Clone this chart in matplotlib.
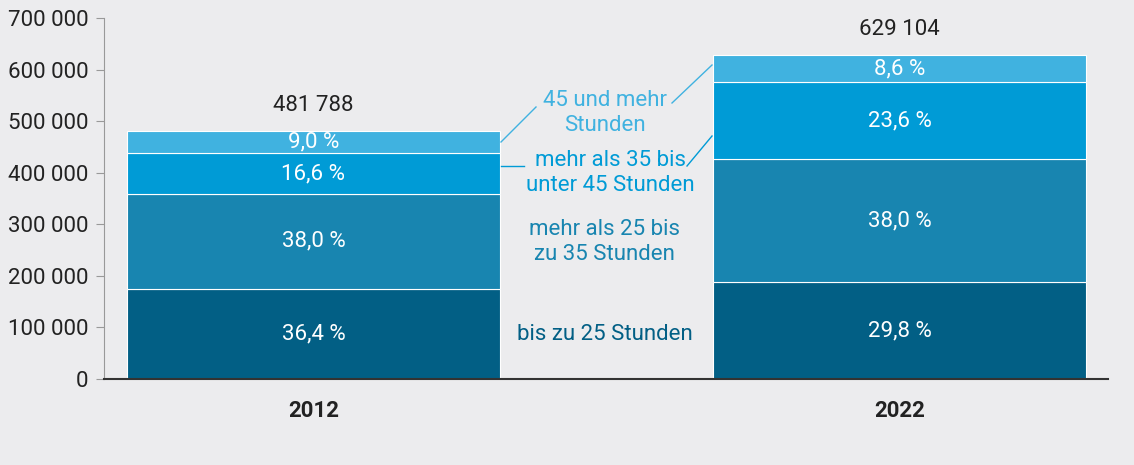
import matplotlib
matplotlib.use("Agg")
import matplotlib.pyplot as plt
from matplotlib.ticker import FuncFormatter

plt.rcParams['font.family'] = ['Roboto', 'DejaVu Sans']

# --- data ---
years = ['2012', '2022']
totals = [481788, 629104]
categories = ['bis zu 25 Stunden', 'mehr als 25 bis\nzu 35 Stunden',
              'mehr als 35 bis\nunter 45 Stunden', '45 und mehr\nStunden']
seg_2012 = [175371, 183079, 79977, 43361]
seg_2022 = [187473, 239060, 148469, 54103]
pct_2012 = ['36,4 %', '38,0 %', '16,6 %', '9,0 %']
pct_2022 = ['29,8 %', '38,0 %', '23,6 %', '8,6 %']
yticks = [0, 100000, 200000, 300000, 400000, 500000, 600000, 700000]

colors = ['#025f85', '#1885b0', '#009bd6', '#40b2e0']
bg = '#ececee'
FS = 16

W, H = 1134, 465
fig = plt.figure(figsize=(W / 100, H / 100), dpi=100, facecolor=bg)
ax = fig.add_axes([104 / W, 86 / H, (1108 - 104) / W, (379 - 18) / H])
ax.set_facecolor(bg)

xs = [0, 1]
width = 0.6365
segs = [seg_2012, seg_2022]
pcts = [pct_2012, pct_2022]
for x, vals, labels in zip(xs, segs, pcts):
    bottom = 0
    for v, c, lab in zip(vals, colors, labels):
        ax.bar(x, v, width, bottom=bottom, color=c, edgecolor='white', linewidth=0.8)
        ax.text(x, bottom + v / 2, lab, ha='center', va='center', color='white', fontsize=FS)
        bottom += v

for x, t in zip(xs, totals):
    ax.text(x, t + 28000, f'{t:,}'.replace(',', ' '), ha='center', va='bottom',
            color='#222222', fontsize=FS)

ax.set_xlim(-0.3575, 1.3558)
ax.set_ylim(0, 700000)
ax.set_yticks(yticks)
ax.yaxis.set_major_formatter(FuncFormatter(lambda v, p: f'{int(v):,}'.replace(',', ' ')))
ax.tick_params(axis='y', length=6, color='#999999', labelsize=FS, labelcolor='#222222', pad=5)
ax.set_xticks(xs)
ax.set_xticklabels(years, fontsize=FS, fontweight='bold', color='#222222')
ax.tick_params(axis='x', length=0, pad=15)

for s in ['top', 'right']:
    ax.spines[s].set_visible(False)
ax.spines['left'].set_color('#999999')
ax.spines['bottom'].set_color('#333333')
ax.spines['bottom'].set_linewidth(1.5)


def px(xp, yp):
    # pixel position -> data coordinates
    return -0.3575 + (xp - 104) / 586, (379 - yp) / 361 * 700000


# category labels between the bars
label_pos = [(605, 334), (604, 242), (610, 173), (605, 113)]
for cat, c, (xp, yp) in zip(categories, colors, label_pos):
    xd, yd = px(xp, yp)
    ax.text(xd, yd, cat, ha='center', va='center', color=c, fontsize=FS, linespacing=1.3)

# leader lines
leaders = [((501, 142), (536, 107), colors[3]),
           ((501, 166), (524, 166), colors[2]),
           ((672, 103), (712, 65), colors[3]),
           ((687, 166), (712, 136), colors[2])]
for (a, b, c) in leaders:
    x0, y0 = px(*a)
    x1, y1 = px(*b)
    ax.plot([x0, x1], [y0, y1], color=c, linewidth=1)

fig.savefig('out.png', dpi=100, facecolor=bg)
